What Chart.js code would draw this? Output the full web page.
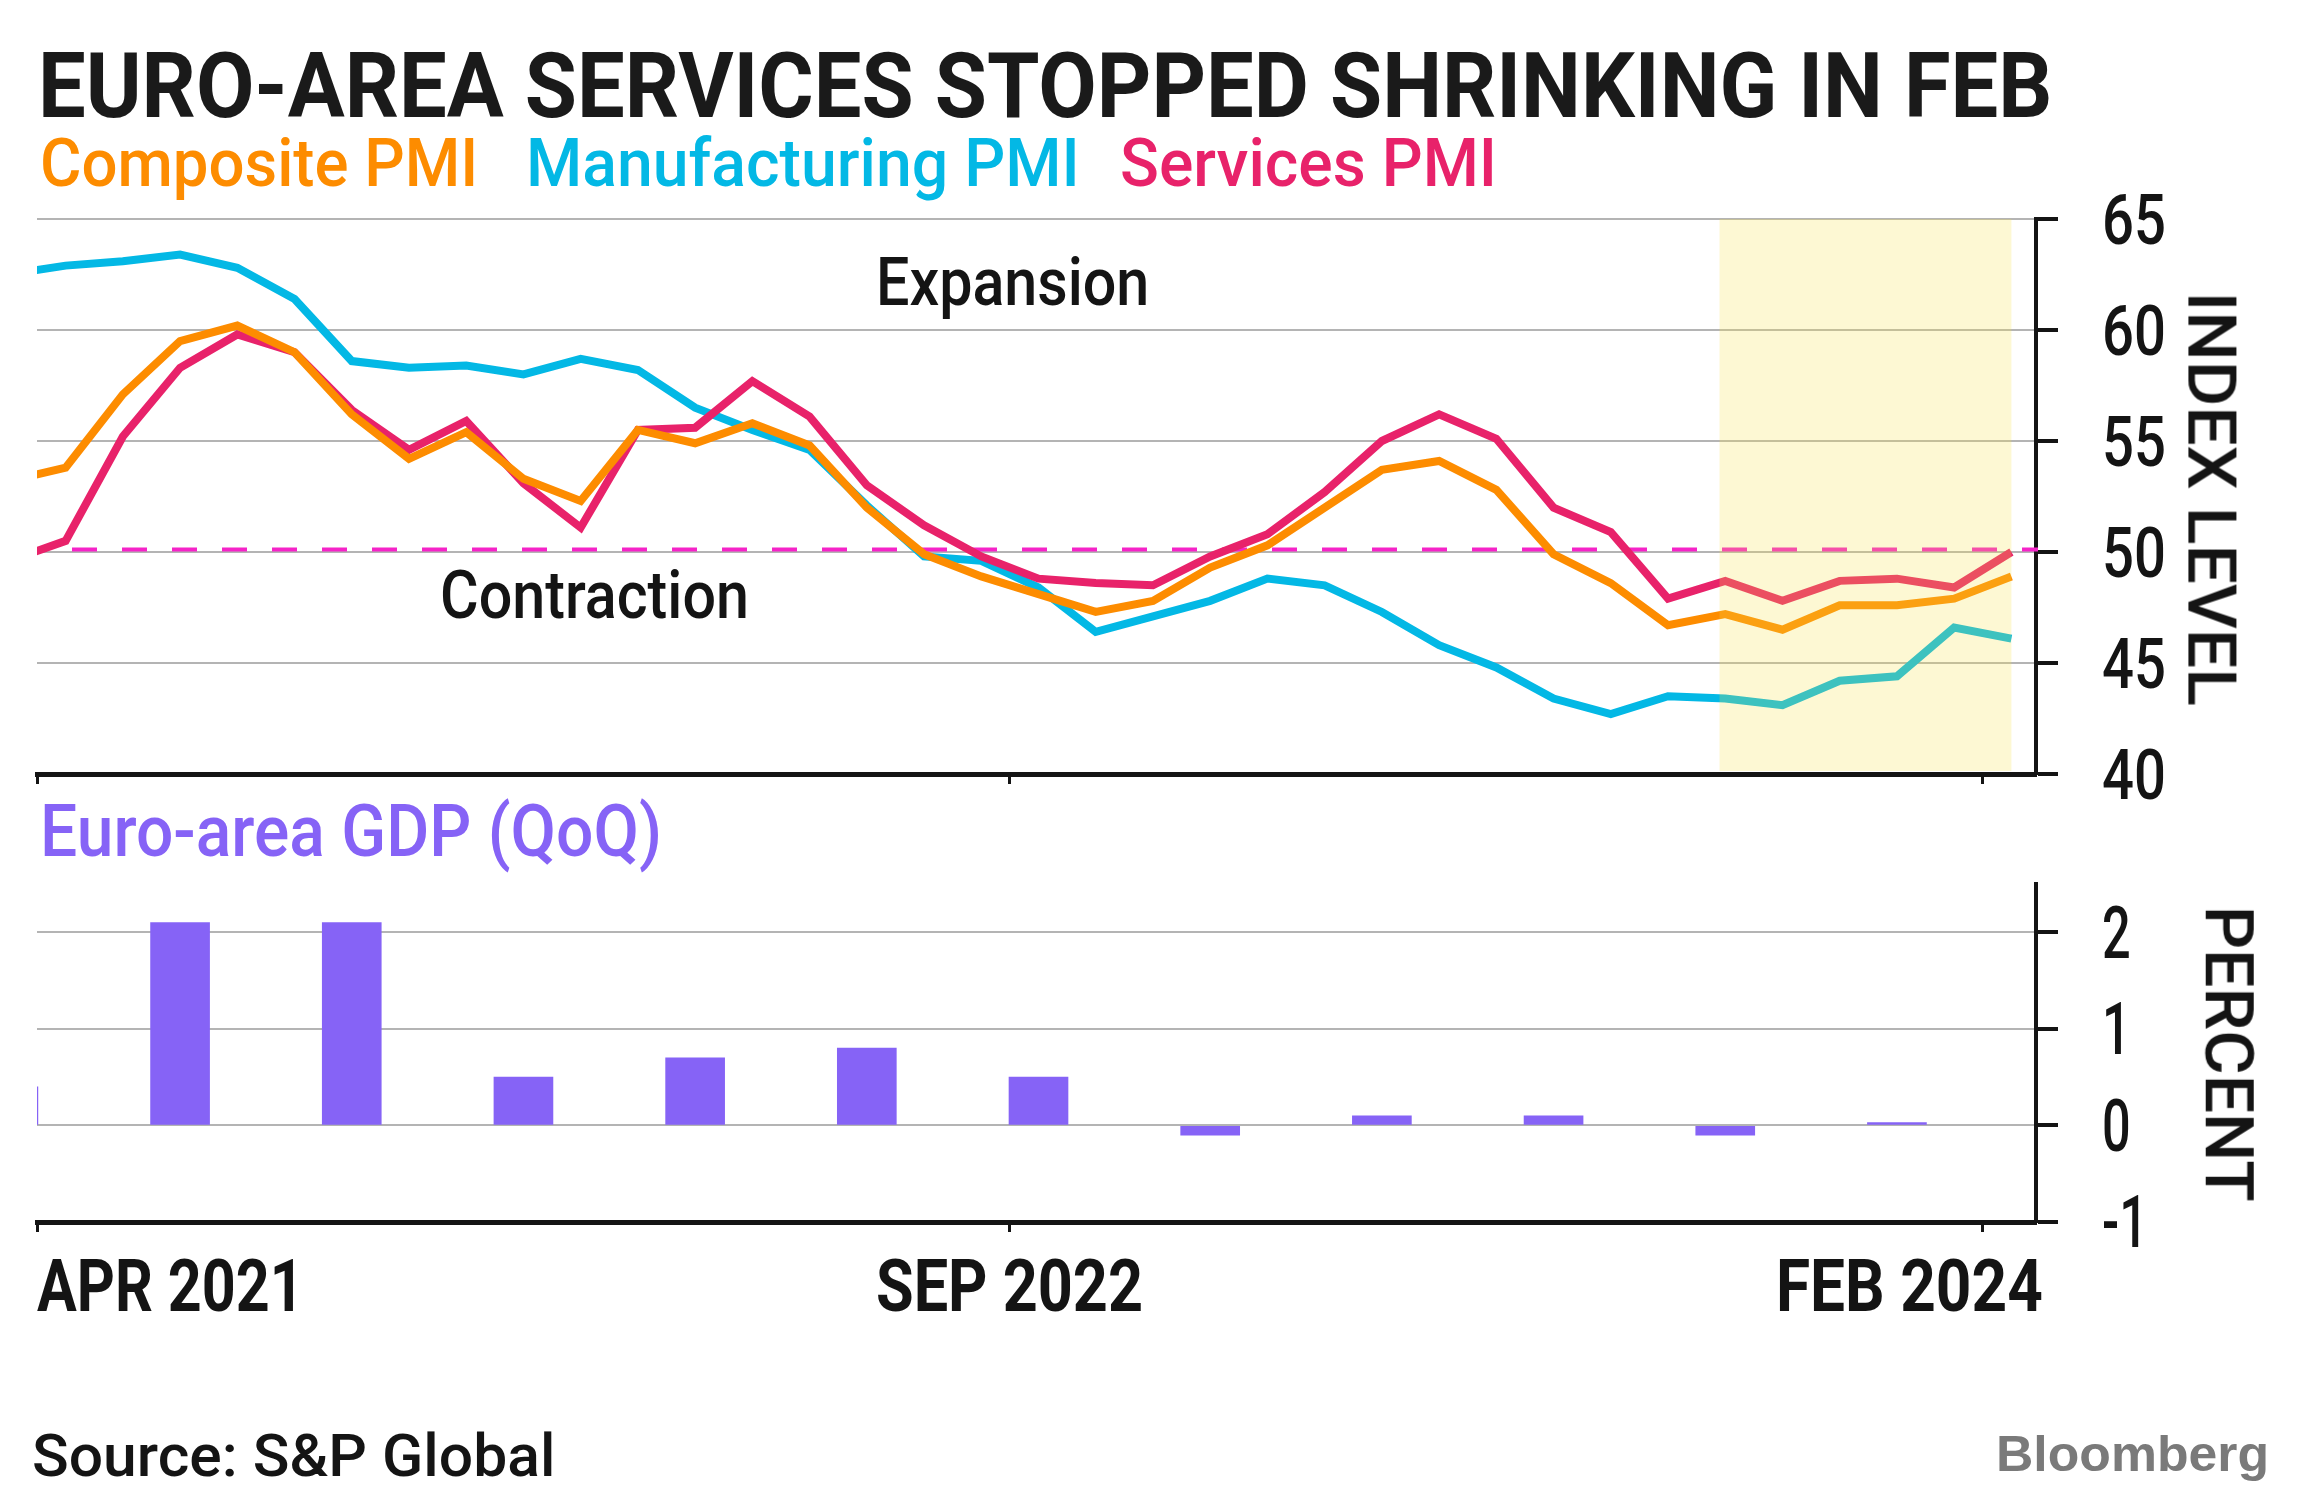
<!DOCTYPE html>
<html>
<head>
<meta charset="utf-8">
<title>Euro-area services stopped shrinking in Feb</title>
<script src="https://cdn.jsdelivr.net/npm/chart.js@4.4.0/dist/chart.umd.min.js"></script>
<style>
  html, body { margin: 0; padding: 0; background: #fff; }
  #page { position: relative; width: 2303px; height: 1512px; overflow: hidden;
          font-family: Roboto, "DejaVu Sans", sans-serif; }
  #page canvas { position: absolute; left: 0; }
  .t { position: absolute; white-space: nowrap; line-height: 1; }
</style>
</head>
<body>
<div id="page">
  <canvas id="pmiChart" width="2303" height="800" style="top:0px"></canvas>
  <canvas id="gdpChart" width="2303" height="460" style="top:800px"></canvas>
</div>
<script>
// ---- data ----
const months = [
  'Mar 2021', 'Apr 2021', 'May 2021', 'Jun 2021', 'Jul 2021', 'Aug 2021', 'Sep 2021', 'Oct 2021', 'Nov 2021', 'Dec 2021',
  'Jan 2022', 'Feb 2022', 'Mar 2022', 'Apr 2022', 'May 2022', 'Jun 2022', 'Jul 2022', 'Aug 2022', 'Sep 2022', 'Oct 2022', 'Nov 2022', 'Dec 2022',
  'Jan 2023', 'Feb 2023', 'Mar 2023', 'Apr 2023', 'May 2023', 'Jun 2023', 'Jul 2023', 'Aug 2023', 'Sep 2023', 'Oct 2023', 'Nov 2023', 'Dec 2023',
  'Jan 2024', 'Feb 2024'
];
const composite = [53.2, 53.8, 57.1, 59.5, 60.2, 59.0, 56.2, 54.2, 55.4, 53.3,
  52.3, 55.5, 54.9, 55.8, 54.8, 52.0, 49.9, 48.9, 48.1, 47.3, 47.8, 49.3,
  50.3, 52.0, 53.7, 54.1, 52.8, 49.9, 48.6, 46.7, 47.2, 46.5, 47.6, 47.6,
  47.9, 48.9];
const manufacturing = [62.5, 62.9, 63.1, 63.4, 62.8, 61.4, 58.6, 58.3, 58.4, 58.0,
  58.7, 58.2, 56.5, 55.5, 54.6, 52.1, 49.8, 49.6, 48.4, 46.4, 47.1, 47.8,
  48.8, 48.5, 47.3, 45.8, 44.8, 43.4, 42.7, 43.5, 43.4, 43.1, 44.2, 44.4,
  46.6, 46.1];
const services = [49.6, 50.5, 55.2, 58.3, 59.8, 59.0, 56.4, 54.6, 55.9, 53.1,
  51.1, 55.5, 55.6, 57.7, 56.1, 53.0, 51.2, 49.8, 48.8, 48.6, 48.5, 49.8,
  50.8, 52.7, 55.0, 56.2, 55.1, 52.0, 50.9, 47.9, 48.7, 47.8, 48.7, 48.8,
  48.4, 50.0];

// GDP, quarter-on-quarter %, plotted at the quarter's last month
const gdpQuarterEnds = ['Mar 2021', 'Jun 2021', 'Sep 2021', 'Dec 2021', 'Mar 2022', 'Jun 2022',
  'Sep 2022', 'Dec 2022', 'Mar 2023', 'Jun 2023', 'Sep 2023', 'Dec 2023'];
const gdp = [0.4, 2.1, 2.1, 0.5, 0.7, 0.8, 0.5, -0.1, 0.1, 0.1, -0.1, 0.03];

const xTickLabels = ['APR 2021', 'SEP 2022', 'FEB 2024'];
const xTickMonths = ['Apr 2021', 'Sep 2022', 'Feb 2024'];
const pmiTicks = [40, 45, 50, 55, 60, 65];
const gdpTicks = [-1, 0, 1, 2];
const thresholdPmi = 50;
const highlightMonths = ['Sep 2023', 'Feb 2024'];

// ---- styling ----
const ORANGE = '#fd8c00';
const CYAN = '#03b8e5';
const PINK = '#e8226a';
const PURPLE = '#8663f6';
const DASH = '#f523c8';
const GRID = '#b4b4b4';
const INK = '#141414';

// month index: Apr 2021 = 0
const xOf = m => months.indexOf(m) - 1;
const series = vals => vals.map((v, i) => ({ x: xOf(months[i]), y: v }));

const X_MIN = -0.5, X_MAX = 34.43;

function xScale() {
  return {
    type: 'linear', min: X_MIN, max: X_MAX, offset: false,
    afterBuildTicks: s => { s.ticks = xTickMonths.map(m => ({ value: xOf(m) - 0.5 })); },
    afterFit: s => { s.height = 12; },
    ticks: { display: false },
    grid: { offset: false, drawOnChartArea: false, drawTicks: true, tickLength: 10, tickColor: INK, tickWidth: 3 },
    border: { display: true, color: INK, width: 5 }
  };
}

function yScale(min, max, ticks, axisValue) {
  return {
    position: 'right', min: min, max: max,
    afterBuildTicks: s => { s.ticks = ticks.map(v => ({ value: v })); },
    afterFit: s => { s.width = 24; },
    ticks: { display: false },
    grid: {
      color: c => (c.tick && c.tick.value === axisValue) ? 'rgba(0,0,0,0)' : GRID,
      lineWidth: 2, drawTicks: true, tickLength: 22, tickColor: INK, tickWidth: 4
    },
    border: { display: true, color: INK, width: 4 }
  };
}

const pmiDecor = {
  id: 'pmiDecor',
  beforeDatasetsDraw(chart) {
    const { ctx, chartArea: a, scales: { y } } = chart;
    const yy = y.getPixelForValue(thresholdPmi) - 2.5;
    ctx.save();
    ctx.strokeStyle = DASH;
    ctx.lineWidth = 4;
    ctx.setLineDash([25, 25]);
    ctx.lineDashOffset = 15;
    ctx.beginPath();
    ctx.moveTo(a.left, yy);
    ctx.lineTo(a.right + 2, yy);
    ctx.stroke();
    ctx.restore();
  },
  afterDatasetsDraw(chart) {
    const { ctx, chartArea: a, scales: { x } } = chart;
    const x0 = x.getPixelForValue(xOf(highlightMonths[0]) - 0.1);
    const x1 = x.getPixelForValue(xOf(highlightMonths[1]));
    ctx.save();
    ctx.fillStyle = 'rgba(246,225,72,0.24)';
    ctx.fillRect(x0, a.top, x1 - x0, a.bottom - a.top - 3);
    ctx.restore();
  }
};

const lineStyle = { borderWidth: 8, pointRadius: 0, tension: 0, fill: false, clip: 0, borderCapStyle: 'butt' };

const pmiChart = new Chart(document.getElementById('pmiChart'), {
  type: 'line',
  data: {
    datasets: [
      Object.assign({ label: 'Composite PMI', data: series(composite), borderColor: ORANGE }, lineStyle),
      Object.assign({ label: 'Services PMI', data: series(services), borderColor: PINK }, lineStyle),
      Object.assign({ label: 'Manufacturing PMI', data: series(manufacturing), borderColor: CYAN }, lineStyle)
    ]
  },
  options: {
    responsive: false, animation: false, events: [],
    layout: { autoPadding: false, padding: { left: 37, top: 219, right: 243, bottom: 14 } },
    plugins: { legend: { display: false }, tooltip: { enabled: false } },
    scales: { x: xScale(), y: yScale(40, 65, pmiTicks, 40) }
  },
  plugins: [pmiDecor]
});

const gdpChart = new Chart(document.getElementById('gdpChart'), {
  type: 'bar',
  data: {
    datasets: [{
      label: 'Euro-area GDP (QoQ)',
      data: gdp.map((v, i) => ({ x: xOf(gdpQuarterEnds[i]), y: v })),
      backgroundColor: PURPLE, borderWidth: 0, barThickness: 59, clip: 0
    }]
  },
  options: {
    responsive: false, animation: false, events: [],
    layout: { autoPadding: false, padding: { left: 37, top: 84, right: 243, bottom: 26 } },
    plugins: { legend: { display: false }, tooltip: { enabled: false } },
    scales: { x: xScale(), y: yScale(-1, 2.5, gdpTicks, -1) }
  }
});

// ---- text, as html laid over the canvases ----
const page = document.getElementById('page');
const CAP = 0.711, CAP_MID = 0.4865;

function addText(str, o) {
  const el = document.createElement('div');
  el.className = 't';
  el.textContent = str;
  const size = o.cap / CAP;
  el.style.fontSize = size.toFixed(1) + 'px';
  el.style.fontWeight = o.weight || 500;
  el.style.color = o.color || INK;
  if (o.family) el.style.fontFamily = o.family;
  page.appendChild(el);
  const natural = el.offsetWidth;
  const s = o.scale || (o.w ? o.w / natural : 1);
  if (o.rotate) {
    el.style.left = (o.cx - natural / 2) + 'px';
    el.style.top = (o.cy - size / 2) + 'px';
    el.style.transformOrigin = '50% 50%';
    el.style.transform = 'rotate(90deg) scaleX(' + s + ')';
  } else {
    let left = o.x;
    if (o.align === 'center') left = o.x - natural * s / 2;
    if (o.align === 'right') left = o.x - natural * s;
    el.style.left = left + 'px';
    el.style.top = (o.y - CAP_MID * size) + 'px';
    el.style.transformOrigin = '0 0';
    el.style.transform = 'scaleX(' + s + ')';
  }
  return { el: el, natural: natural };
}

addText('EURO-AREA SERVICES STOPPED SHRINKING IN FEB', { x: 38, w: 2014, y: 86, cap: 64, weight: 700, color: '#1a1a1a' });
addText('Composite PMI', { x: 40, w: 438, y: 163, cap: 47, color: ORANGE });
addText('Manufacturing PMI', { x: 526, w: 554, y: 163, cap: 47, color: CYAN });
addText('Services PMI', { x: 1120, w: 377, y: 163, cap: 47, color: PINK });

addText('Expansion', { x: 876, w: 273, y: 282, cap: 47 });
addText('Contraction', { x: 440, w: 309, y: 595, cap: 47 });
addText('Euro-area GDP (QoQ)', { x: 40, w: 622, y: 831, cap: 51, color: PURPLE });

addText('INDEX LEVEL', { rotate: true, cx: 2211, cy: 499, w: 414, cap: 48 });
addText('PERCENT', { rotate: true, cx: 2229, cy: 1054, w: 296, cap: 48 });

addText('Source: S&P Global', { x: 32, w: 523, y: 1455, cap: 42 });
addText('Bloomberg', { x: 1996, w: 273, y: 1454, cap: 36, weight: 700, color: '#7a7a7a', family: '"Liberation Sans", Arial, sans-serif' });

// y tick labels, placed with the charts' own scales
function tickLabels(chart, ticks, cap, refText, refWidth, offsetTop) {
  const probe = addText(refText, { x: 0, y: -200, cap: cap });
  const s = refWidth / probe.natural;
  probe.el.remove();
  const y = chart.scales.y;
  ticks.forEach(v => {
    addText(String(v), { x: 2102, y: offsetTop + y.getPixelForValue(v), cap: cap, scale: s });
  });
}
tickLabels(pmiChart, pmiTicks, 50, '65', 64, 0);
tickLabels(gdpChart, gdpTicks, 52, '2', 29, 800);

// x tick labels under the lower panel
const gx = gdpChart.scales.x;
const xAlign = ['left', 'center', 'right'];
xTickLabels.forEach((lab, i) => {
  let px = gx.getPixelForValue(xOf(xTickMonths[i]) - 0.5);
  if (xAlign[i] === 'right') px = gdpChart.chartArea.right + 7;
  addText(lab, { x: px, y: 1286, cap: 51, weight: 700, align: xAlign[i], w: 267 });
});
</script>
</body>
</html>
